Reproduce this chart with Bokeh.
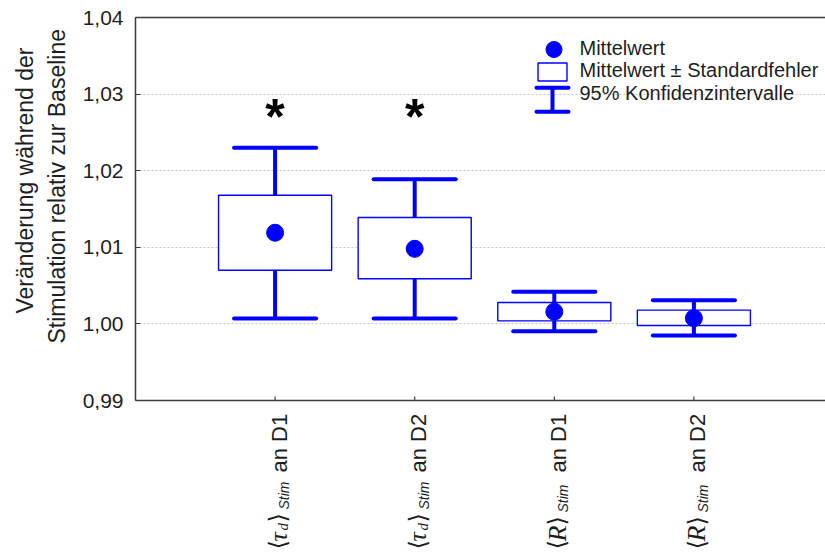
import math
from bokeh.plotting import figure
from bokeh.layouts import column
from bokeh.models import Range1d, FixedTicker, LinearAxis, Title, ColumnDataSource, CustomJSTickFormatter
from bokeh.core.properties import value
from bokeh.embed import file_html
from bokeh.resources import INLINE

# ---- data: relative change during stimulation (mean, ±SE, 95% CI) ----
positions = [1, 2, 3, 4]
mean = [1.0119, 1.0098, 1.0016, 1.00075]
se_low = [1.0070, 1.0059, 1.0004, 0.9998]
se_high = [1.0168, 1.0139, 1.0028, 1.0018]
ci_low = [1.0007, 1.0007, 0.99905, 0.9985]
ci_high = [1.0230, 1.0189, 1.0042, 1.0031]
significant = [True, True, False, False]
star_level = 1.0270

y_ticks = [0.99, 1.00, 1.01, 1.02, 1.03, 1.04]

# category label parts: <symbol_sub>_Stim an Dx
x_symbol = ["τ", "τ", "R", "R"]
x_symbol_sub = ["d", "d", "", ""]
x_suffix = ["an D1", "an D2", "an D1", "an D2"]

legend_labels = ["Mittelwert", "Mittelwert ± Standardfehler", "95% Konfidenzintervalle"]
y_title = ["Veränderung während der", "Stimulation relativ zur Baseline"]

BLUE = "#0000ff"
TEXT = "#1e1e1e"
AXIS = "#3c3c3c"
SANS = "Liberation Sans"
SERIF = "Liberation Serif"

# ---- geometry (pixels) ----
W, H = 825, 554
MAIN_H = 410
FRAME_L, FRAME_T, FRAME_B = 135, 17, 400
PX_PER_X = 139.6
Y0, Y1 = 0.99, 1.04
PX_PER_Y = (FRAME_B - FRAME_T) / (Y1 - Y0)


def dx(px):
    return (px - FRAME_L) / PX_PER_X


def dy(py):
    return Y1 - (py - FRAME_T) / PX_PER_Y


p = figure(width=W, height=MAIN_H,
           x_range=Range1d(0, dx(W)), y_range=Range1d(Y0, Y1),
           output_backend="svg", toolbar_location=None,
           min_border_left=FRAME_L, min_border_right=0,
           min_border_top=FRAME_T, min_border_bottom=MAIN_H - FRAME_B)
p.outline_line_color = None
p.background_fill_color = "white"
p.border_fill_color = "white"

# grid
p.xgrid.visible = False
p.ygrid.ticker = FixedTicker(ticks=y_ticks)
p.ygrid.grid_line_color = "#c4c4c4"
p.ygrid.grid_line_dash = "2 2"
p.ygrid.grid_line_width = 1

# y axis
ya = p.yaxis[0]
ya.ticker = FixedTicker(ticks=y_ticks)
ya.formatter = CustomJSTickFormatter(code="return tick.toFixed(2).replace('.', ',');")
ya.major_label_text_font = SANS
ya.major_label_text_font_size = "21px"
ya.major_label_text_color = TEXT
ya.major_label_standoff = 12
ya.major_tick_in = 5
ya.major_tick_out = 0
ya.minor_tick_line_color = None
ya.axis_line_color = AXIS
ya.axis_line_width = 1.5
ya.major_tick_line_color = AXIS

# y axis title, two lines (inner line first), anchored from the frame bottom
for line, start, gap in [(y_title[1], 57, 20), (y_title[0], 87, -12)]:
    p.add_layout(Title(text=line, align="left", offset=start, standoff=gap,
                       text_font=SANS, text_font_size="23px", text_font_style="normal",
                       text_color=TEXT), "left")

# x axis: plain line; tick marks drawn at the category positions
xa = p.xaxis[0]
xa.ticker = FixedTicker(ticks=[])
xa.minor_tick_line_color = None
xa.major_tick_line_color = None
xa.axis_line_color = AXIS
xa.axis_line_width = 1.5
TICK_LEN = 4 / PX_PER_Y
p.segment(x0=positions, y0=[Y0] * 4, x1=positions, y1=[Y0 + TICK_LEN] * 4,
          line_color=AXIS, line_width=1.2)

# top frame line
top = LinearAxis(ticker=FixedTicker(ticks=[]),
                 major_tick_line_color=None, minor_tick_line_color=None,
                 axis_line_color=AXIS, axis_line_width=1.5)
p.add_layout(top, "above")

# ---- marks ----
BOX_HALF = 0.405
CAP_HALF = 0.294
src = ColumnDataSource(dict(
    x=positions, mean=mean, se_low=se_low, se_high=se_high,
    ci_low=ci_low, ci_high=ci_high,
    left=[x - BOX_HALF for x in positions], right=[x + BOX_HALF for x in positions],
    cap_l=[x - CAP_HALF for x in positions], cap_r=[x + CAP_HALF for x in positions],
))

p.segment(x0="x", y0="ci_low", x1="x", y1="ci_high", source=src,
          line_color=BLUE, line_width=4)
p.segment(x0="cap_l", y0="ci_high", x1="cap_r", y1="ci_high", source=src,
          line_color=BLUE, line_width=4, line_cap="round")
p.segment(x0="cap_l", y0="ci_low", x1="cap_r", y1="ci_low", source=src,
          line_color=BLUE, line_width=4, line_cap="round")
p.quad(left="left", right="right", bottom="se_low", top="se_high", source=src,
       fill_color="white", line_color=BLUE, line_width=1.4)
p.scatter(x="x", y="mean", source=src, size=17, marker="circle",
          fill_color=BLUE, line_color=BLUE)

# significance stars
star_x = [x for x, s in zip(positions, significant) if s]
p.text(x=star_x, y=[star_level] * len(star_x), text=["*"] * len(star_x),
       text_font=value(SANS), text_font_style="bold", text_font_size="50px",
       text_align="center", text_baseline="alphabetic", text_color="black")

# ---- legend ----
p.scatter(x=[dx(553.5)], y=[dy(49)], size=16, marker="circle",
          fill_color=BLUE, line_color=BLUE)
p.quad(left=[dx(537.5)], right=[dx(566.5)], top=[dy(62.5)], bottom=[dy(80.5)],
       fill_color="white", line_color=BLUE, line_width=1.4)
p.segment(x0=[dx(552)], y0=[dy(87.3)], x1=[dx(552)], y1=[dy(111.3)],
          line_color=BLUE, line_width=4)
p.segment(x0=[dx(536), dx(536)], y0=[dy(87.3), dy(111.3)],
          x1=[dx(568), dx(568)], y1=[dy(87.3), dy(111.3)],
          line_color=BLUE, line_width=4, line_cap="round")
p.text(x=[dx(579)] * 3, y=[dy(47.5), dy(69.5), dy(92.5)], text=legend_labels,
       text_font=value(SANS), text_font_size="20px", text_color=TEXT,
       text_align="left", text_baseline="alphabetic")

# ---- category label strip (rotated text, built from pieces) ----
STRIP_H = H - MAIN_H
lab = figure(width=W, height=STRIP_H, x_range=p.x_range, y_range=Range1d(0, STRIP_H),
             output_backend="svg", toolbar_location=None,
             x_axis_location=None, y_axis_location=None,
             min_border_left=FRAME_L, min_border_right=0,
             min_border_top=0, min_border_bottom=0)
lab.outline_line_color = None
lab.grid.visible = False
lab.border_fill_color = "white"


def sy(page_px):
    # vertical position in the strip measured from its bottom
    return H - page_px


pieces = dict(x=[], y=[], text=[], font=[], size=[], style=[], off=[])


def piece(x, start_px, text, font, size, style, offset):
    pieces["x"].append(x)
    pieces["y"].append(sy(start_px))
    pieces["text"].append(text)
    pieces["font"].append(font)
    pieces["size"].append(f"{size}px")
    pieces["style"].append(style)
    pieces["off"].append(offset)


for x, sym, sub, suf in zip(positions, x_symbol, x_symbol_sub, x_suffix):
    y_px = 549
    piece(x, y_px, "⟨", "DejaVu Serif", 24, "normal", 3)
    y_px -= 8
    piece(x, y_px, sym, SERIF, 26, "italic", 3)
    y_px -= 11 if sym == "τ" else 16
    if sub:
        piece(x, y_px, sub, SERIF, 15, "italic", 8)
        y_px -= 8
    piece(x, y_px, "⟩", "DejaVu Serif", 24, "normal", 3)
    y_px -= 13
    piece(x, y_px, "Stim", SANS, 14, "italic", 9)
    piece(x, 472, suf, SANS, 22, "normal", 4)

lab.text(x="x", y="y", text="text", source=ColumnDataSource(pieces),
         angle=math.pi / 2, text_align="left", text_baseline="middle",
         x_offset="off", text_font="font", text_font_size="size",
         text_font_style="style", text_color=TEXT)

layout = column(p, lab, spacing=0)
open("out.html", "w").write(file_html(layout, INLINE))
